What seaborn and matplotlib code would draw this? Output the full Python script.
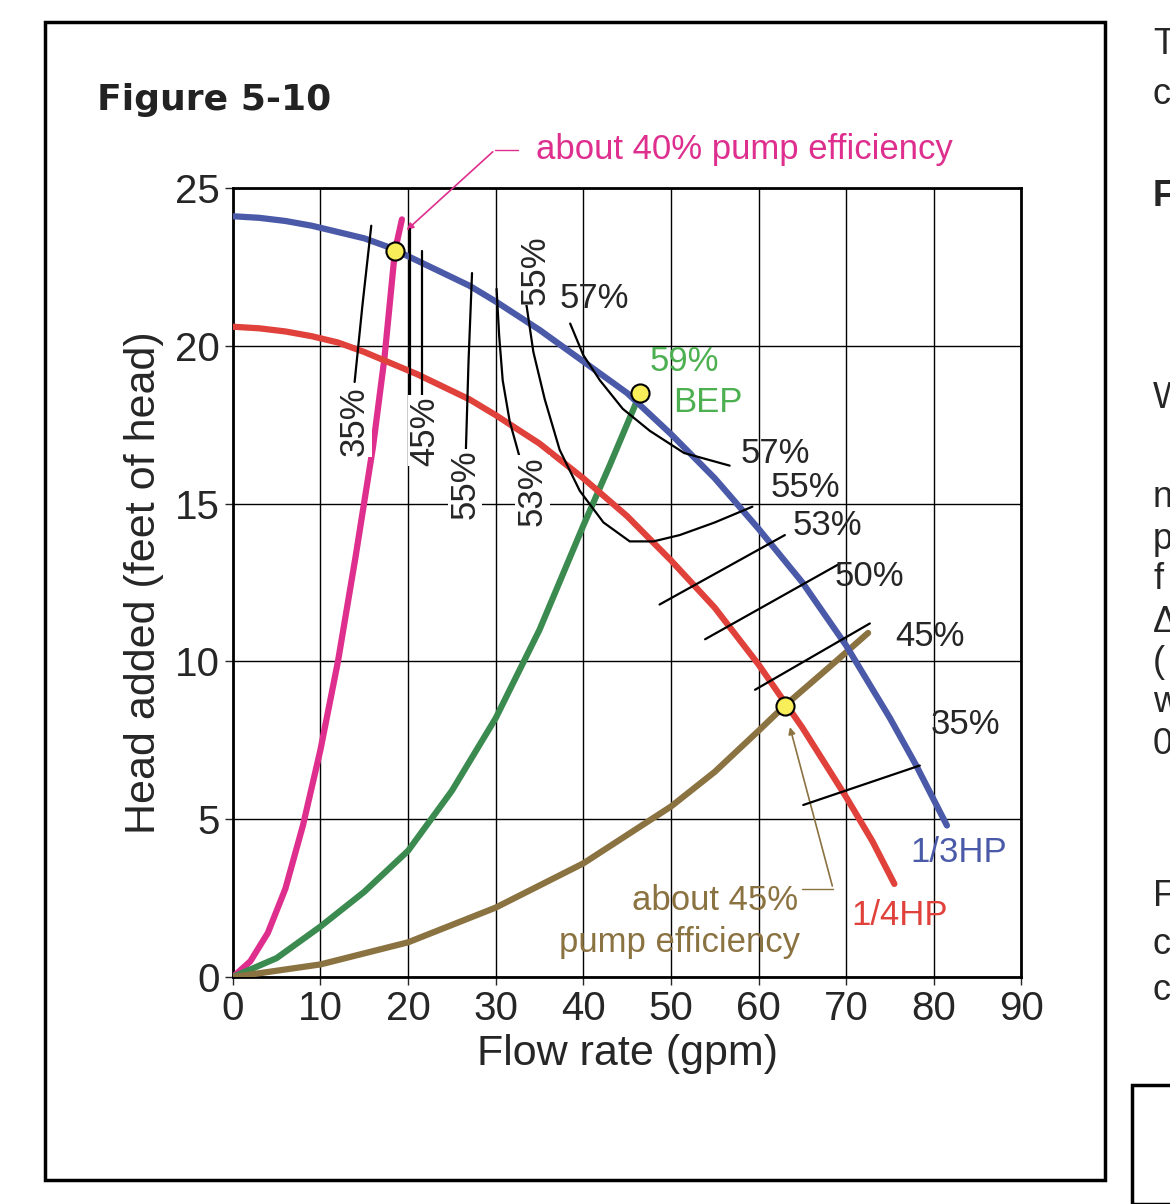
import numpy as np
import pandas as pd
import matplotlib
matplotlib.use("Agg")
import matplotlib.pyplot as plt
from matplotlib.patches import Rectangle
import seaborn as sns

# pump curves (gpm, feet of head)
hp13_x = [0, 3, 6, 9, 12, 15, 18, 21, 24, 27, 30, 35, 40, 45, 50, 55, 60, 65, 70, 75, 78, 81.5]
hp13_y = [24.1, 24.05, 23.95, 23.8, 23.6, 23.4, 23.1, 22.7, 22.3, 21.9, 21.4, 20.5, 19.5, 18.5, 17.2, 15.8, 14.2, 12.5, 10.5, 8.2, 6.7, 4.8]
hp14_x = [0, 3, 6, 9, 12, 15, 18, 21, 24, 27, 30, 35, 40, 45, 50, 55, 60, 65, 70, 73, 75.5]
hp14_y = [20.6, 20.55, 20.45, 20.3, 20.1, 19.8, 19.45, 19.1, 18.7, 18.3, 17.8, 16.9, 15.8, 14.6, 13.2, 11.7, 9.9, 7.9, 5.7, 4.3, 2.95]
# system curves
pink_x = [0, 2, 4, 6, 8, 10, 12, 14, 16, 17.3, 18.5, 19.3]
pink_y = [0, 0.5, 1.4, 2.8, 4.8, 7.2, 10.0, 13.3, 16.8, 19.6, 23.0, 24.0]
green_x = [0, 5, 10, 15, 20, 25, 30, 35, 40, 43, 46.5]
green_y = [0, 0.6, 1.6, 2.7, 4.0, 5.9, 8.2, 11.0, 14.3, 16.2, 18.5]
brown_x = [0, 10, 20, 30, 40, 45, 50, 55, 60, 63, 68, 72.5]
brown_y = [0, 0.4, 1.1, 2.2, 3.6, 4.5, 5.4, 6.5, 7.8, 8.6, 9.8, 10.9]
# operating points
op_x = [18.5, 46.5, 63.0]
op_y = [23.0, 18.5, 8.6]

# efficiency contour lines: (x list, y list)
eff_lines = [
    ([13.9, 14.8, 15.8], [18.85, 21.3, 23.8]),
    ([20.2, 20.2], [18.1, 23.7]),
    ([21.6, 21.6], [18.1, 23.0]),
    ([26.6, 26.9, 27.3], [16.7, 19.5, 22.3]),
    ([30.1, 30.4, 30.8, 31.6, 32.8], [21.8, 20.3, 18.9, 17.6, 16.4]),
    ([33.4, 34.3, 35.6, 37.3, 39.6, 42.3, 45.3, 48.0, 51.0, 55.0, 59.3],
     [21.5, 19.8, 18.3, 16.7, 15.4, 14.4, 13.8, 13.8, 14.0, 14.4, 14.9]),
    ([38.5, 40.0, 41.9, 44.5, 47.6, 51.5, 56.7], [20.7, 19.7, 18.9, 18.0, 17.3, 16.6, 16.2]),
    ([48.7, 63.0], [11.8, 14.0]),
    ([53.9, 69.3], [10.7, 13.1]),
    ([59.6, 72.7], [9.1, 11.2]),
    ([65.1, 78.4], [5.45, 6.7]),
]
# efficiency labels: text, x, y, rotation
eff_labels = [
    ("35%", 13.9, 17.6, 90), ("45%", 21.9, 17.3, 90), ("55%", 26.5, 15.6, 90),
    ("53%", 34.2, 15.4, 90), ("55%", 34.5, 22.4, 90), ("57%", 41.3, 21.5, 0),
    ("57%", 61.9, 16.6, 0), ("55%", 65.3, 15.5, 0), ("53%", 67.9, 14.3, 0),
    ("50%", 72.6, 12.7, 0), ("45%", 79.6, 10.8, 0), ("35%", 83.6, 8.0, 0),
]

BLUE, RED, PINK = "#4a5aa8", "#e0413a", "#de2f8e"
GREEN, BROWN = "#3b8a4f", "#8b7241"

sns.set_style("white")
plt.rcParams['font.family'] = ['Liberation Sans', 'DejaVu Sans']

fig = plt.figure(figsize=(11.7, 12.04), dpi=100)
ax = fig.add_axes([0.199, 0.1885, 0.674, 0.6555])

for xs, ys, c in [(pink_x, pink_y, PINK), (green_x, green_y, GREEN), (brown_x, brown_y, BROWN),
                  (hp14_x, hp14_y, RED), (hp13_x, hp13_y, BLUE)]:
    sns.lineplot(x=xs, y=ys, color=c, lw=4.5, ax=ax, sort=False, estimator=None, zorder=3)

for xs, ys in eff_lines:
    sns.lineplot(x=xs, y=ys, color="black", lw=1.6, ax=ax, sort=False, estimator=None, zorder=4)
for t, x, y, r in eff_labels:
    ax.text(x, y, t, fontsize=25, rotation=r, ha="center", va="center", zorder=5,
            bbox=dict(fc="white", ec="none", pad=0.5) if r == 90 else None)

sns.scatterplot(x=op_x, y=op_y, s=170, color="#f8ee5a", edgecolor="black", linewidth=1.5,
                ax=ax, zorder=6)

ax.set_xlim(0, 90)
ax.set_ylim(0, 25)
ax.set_xticks(range(0, 91, 10))
ax.set_yticks(range(0, 26, 5))
ax.set_xticks(np.arange(0, 91, 2), minor=True)
ax.set_yticks(np.arange(0, 26, 1), minor=True)
ax.grid(True, which="major", color="black", lw=1.0)
ax.tick_params(which="major", direction="out", length=6, labelsize=29, width=1)
ax.tick_params(which="minor", direction="in", length=10, color="#999999", width=1)
ax.tick_params(bottom=True, left=True)
for s in ax.spines.values():
    s.set_color("black")
    s.set_linewidth(2)
ax.set_xlabel("Flow rate (gpm)", fontsize=31, labelpad=4)
ax.set_ylabel("Head added (feet of head)", fontsize=31, labelpad=8)

# annotations
ax.text(58.4, 26.2, "about 40% pump efficiency", color=PINK, fontsize=25, ha="center", va="center")
ax.plot([32.5, 29.9], [26.2, 26.2], color=PINK, lw=1, clip_on=False)
ax.annotate("", xy=(19.6, 23.6), xytext=(29.9, 26.2),
            arrowprops=dict(arrowstyle="-|>", color=PINK, lw=1.2), annotation_clip=False)
ax.text(51.5, 19.5, "59%", color="#4caf50", fontsize=25, ha="center", va="center")
ax.text(54.2, 18.2, "BEP", color="#4caf50", fontsize=25, ha="center", va="center")
ax.text(55.0, 2.44, "about 45%", color=BROWN, fontsize=25, ha="center", va="center")
ax.text(51.0, 1.1, "pump efficiency", color=BROWN, fontsize=25, ha="center", va="center")
ax.plot([65.0, 68.5], [2.8, 2.8], color=BROWN, lw=1)
ax.annotate("", xy=(63.5, 8.0), xytext=(68.5, 2.8),
            arrowprops=dict(arrowstyle="-|>", color=BROWN, lw=1.2))
ax.text(82.8, 3.96, "1/3HP", color=BLUE, fontsize=25, ha="center", va="center")
ax.text(76.1, 1.96, "1/4HP", color=RED, fontsize=25, ha="center", va="center")

fig.text(0.083, 0.917, "Figure 5-10", fontsize=26, fontweight="heavy", color="#222222",
         va="center", family="DejaVu Sans")

# outer box and cut-off neighbouring page text
fig.add_artist(Rectangle((45 / 1170, 1 - 1180 / 1204), 1060 / 1170, 1158 / 1204,
                         transform=fig.transFigure, fill=False, ec="black", lw=2.5))
fig.add_artist(Rectangle((1132 / 1170, 0.0), 0.1, 1 - 1085 / 1204,
                         transform=fig.transFigure, fill=False, ec="black", lw=2.5))
side = [("T", 45), ("c", 95), ("F", 197), ("W", 398), ("n", 497), ("p", 540), ("f", 580),
        ("Δ", 622), ("(", 662), ("w", 703), ("0", 745), ("F", 897), ("c", 945), ("c", 990)]
for t, py in side:
    fig.text(1153 / 1170, 1 - py / 1204, t, fontsize=26, va="center",
             fontweight="bold" if py == 197 else "normal")

fig.savefig("out.png", dpi=100)
